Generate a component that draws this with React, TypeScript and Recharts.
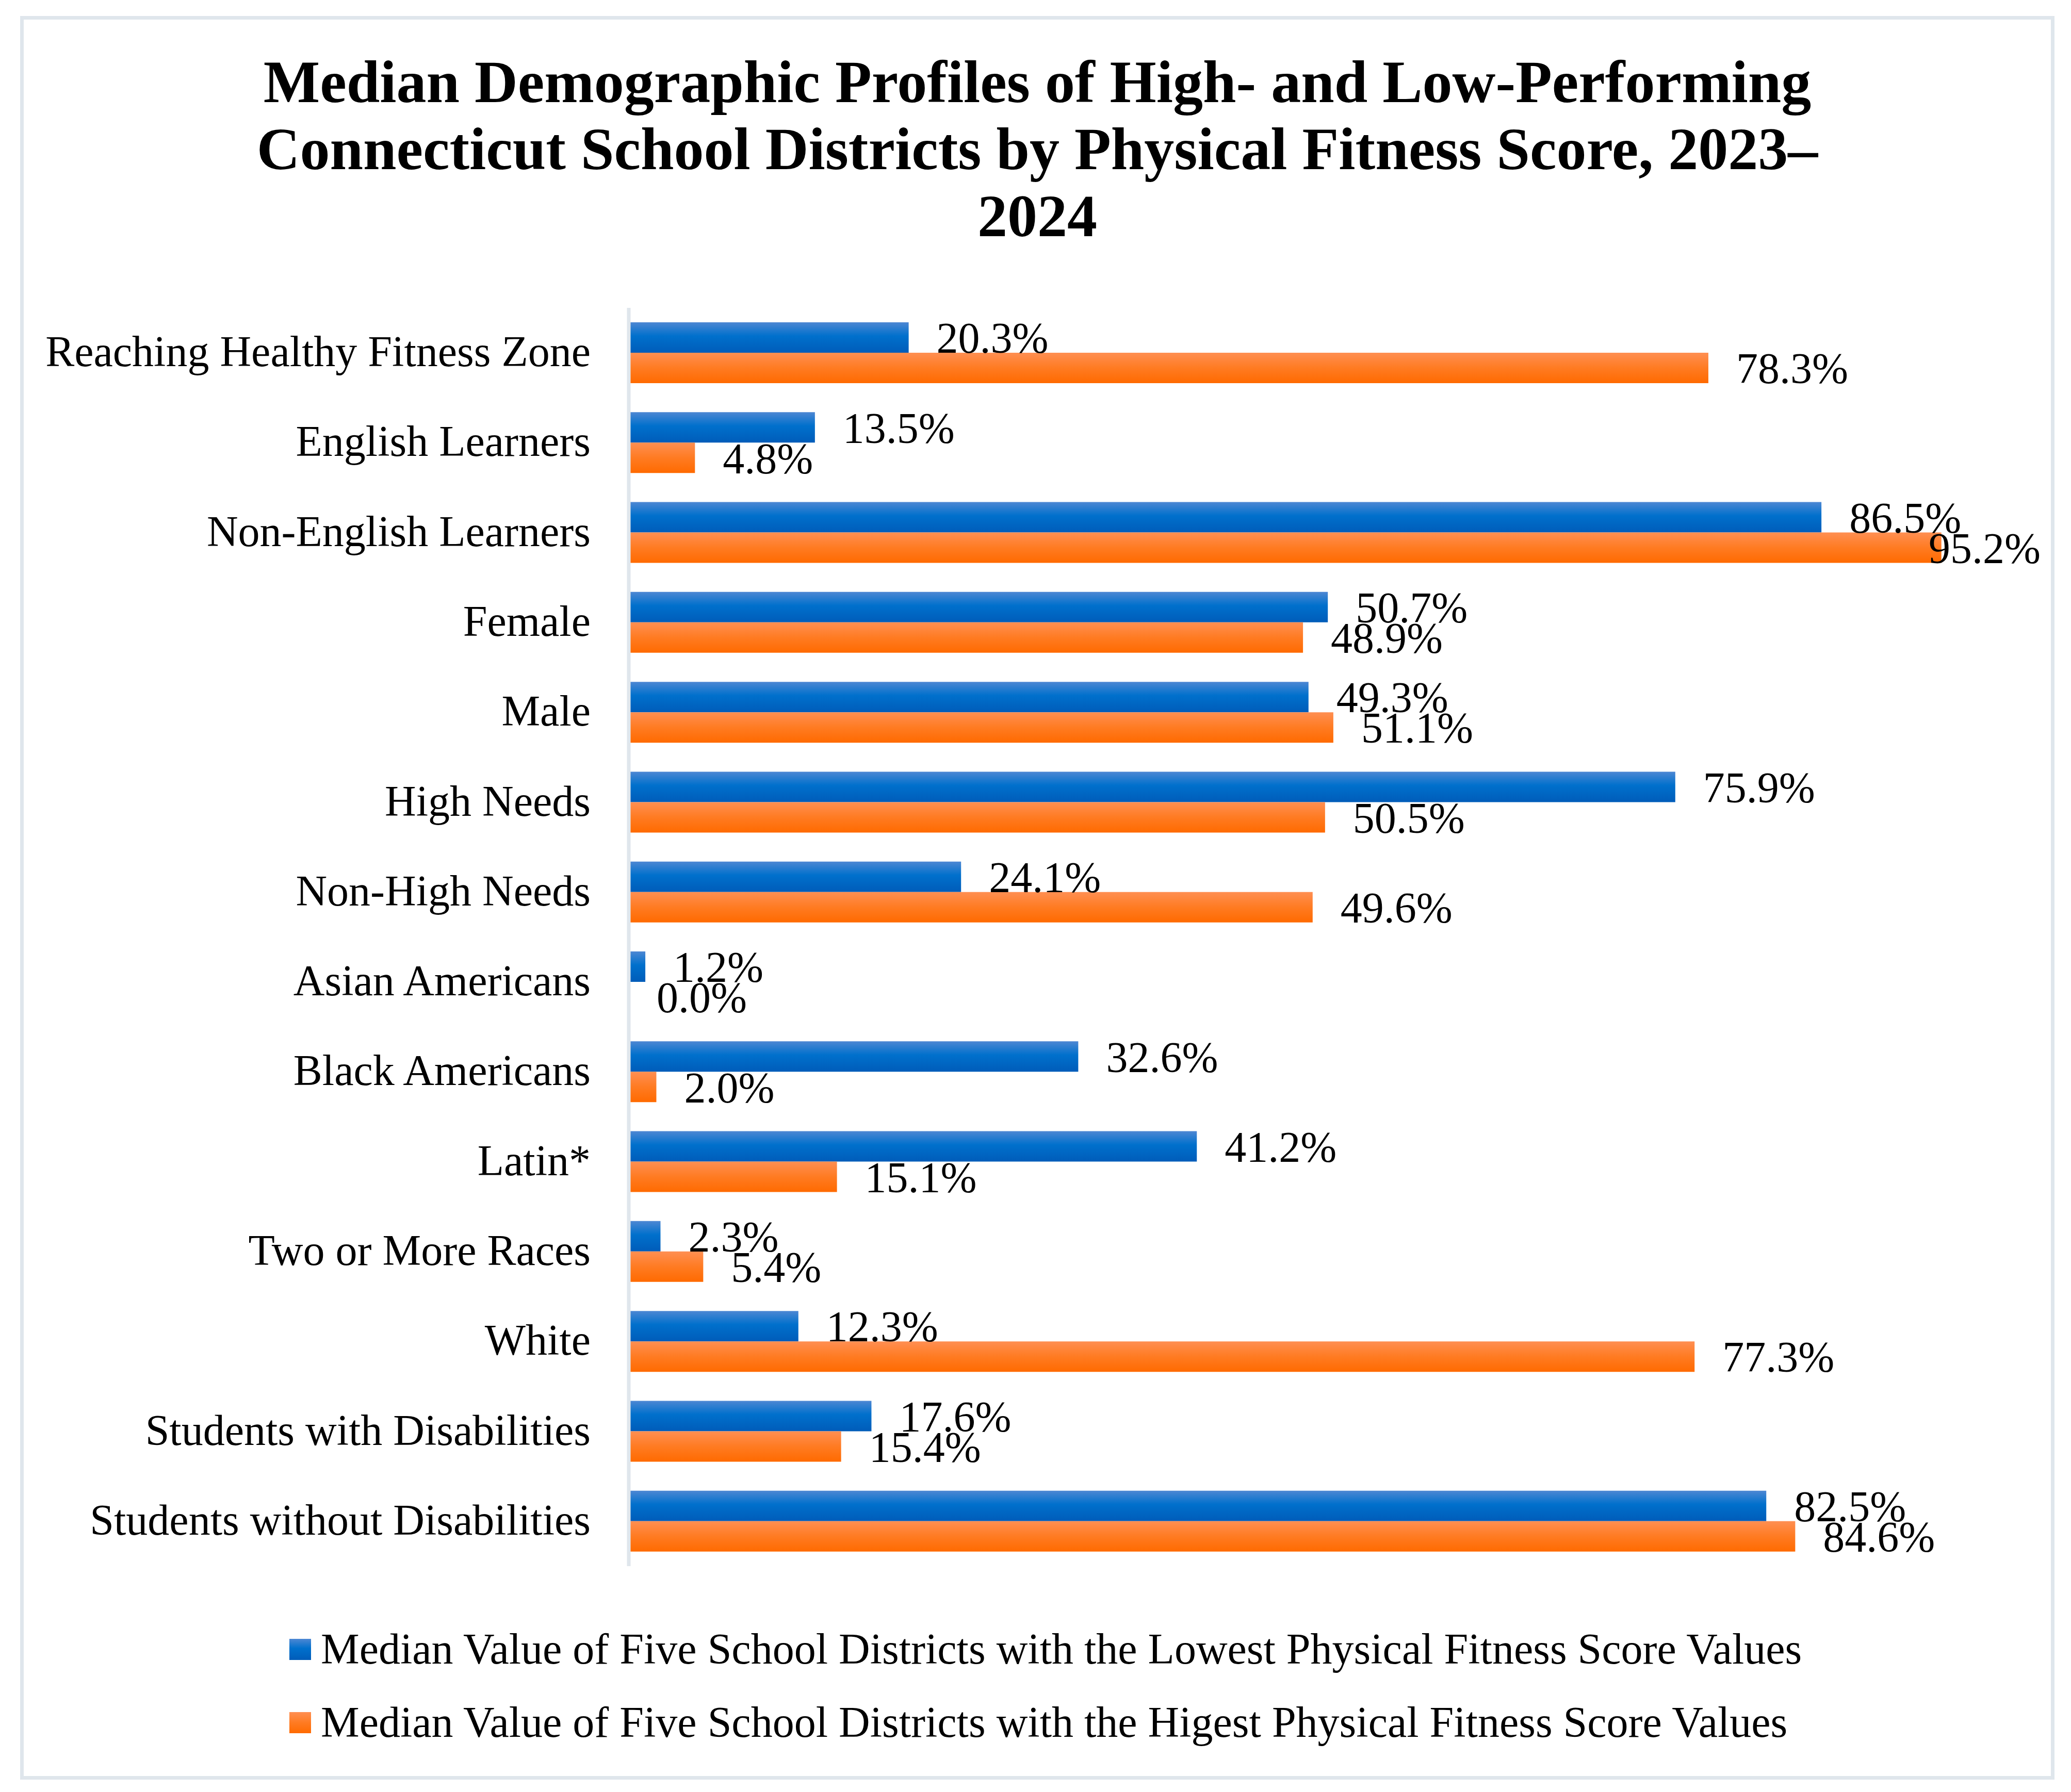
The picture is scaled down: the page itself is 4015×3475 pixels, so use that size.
import React from "react";
import { BarChart, Bar, XAxis, YAxis, LabelList, Legend } from "recharts";

const categories = [
  "Reaching Healthy Fitness Zone",
  "English Learners",
  "Non-English Learners",
  "Female",
  "Male",
  "High Needs",
  "Non-High Needs",
  "Asian Americans",
  "Black Americans",
  "Latin*",
  "Two or More Races",
  "White",
  "Students with Disabilities",
  "Students without Disabilities",
];

const lowestValues = [20.3, 13.5, 86.5, 50.7, 49.3, 75.9, 24.1, 1.2, 32.6, 41.2, 2.3, 12.3, 17.6, 82.5];
const highestValues = [78.3, 4.8, 95.2, 48.9, 51.1, 50.5, 49.6, 0.0, 2.0, 15.1, 5.4, 77.3, 15.4, 84.6];

const seriesNames = [
  "Median Value of Five School Districts with the Lowest Physical Fitness Score Values",
  "Median Value of Five School Districts with the Higest Physical Fitness Score Values",
];

const titleLines = [
  "Median Demographic Profiles of High- and Low-Performing",
  "Connecticut School Districts by Physical Fitness Score, 2023–",
  "2024",
];

const data = categories.map((c, i) => ({ name: c, low: lowestValues[i], high: highestValues[i] }));

const FONT = '"Liberation Serif", "Times New Roman", serif';
const BLUE_CSS = "linear-gradient(to bottom, #4d87d3 0%, #0070cc 45%, #005cb9 100%)";
const ORANGE_CSS = "linear-gradient(to bottom, #ff8f52 0%, #ff7b22 50%, #ff6a00 100%)";
const LABEL_SIZE = 84;
const LABEL_LIMIT = 3956;

const CategoryTick = (props: any) => {
  const { x, y, payload } = props;
  return (
    <text x={x} y={y} dy="0.31em" textAnchor="end" fontFamily={FONT} fontSize={84} fill="#000">
      {payload.value}
    </text>
  );
};

const charW = (ch: string) => (ch === "." ? 0.25 : ch === "%" ? 0.833 : 0.5);
const fmt = (v: any) => `${Number(v).toFixed(1)}%`;

const ValueLabel = (props: any) => {
  const vb = props.viewBox || props;
  const x = Number(vb.x ?? props.x);
  const y = Number(vb.y ?? props.y);
  const width = Number(vb.width ?? props.width ?? 0);
  const height = Number(vb.height ?? props.height ?? 0);
  const text = fmt(props.value);
  const w = text.split("").reduce((s, c) => s + charW(c), 0) * LABEL_SIZE;
  const lx = Math.min(x + width + 54, LABEL_LIMIT - w);
  return (
    <text x={lx} y={y + height / 2} dy="0.355em" fontFamily={FONT} fontSize={LABEL_SIZE} fill="#000">
      {text}
    </text>
  );
};

const LegendContent = () => {
  const swatches = [BLUE_CSS, ORANGE_CSS];
  return (
    <div style={{ fontFamily: FONT }}>
      {seriesNames.map((n, i) => (
        <div
          key={n}
          style={{ display: "flex", alignItems: "center", height: 142, whiteSpace: "nowrap" }}
        >
          <div style={{ width: 42, height: 41, background: swatches[i], marginRight: 19 }} />
          <span style={{ fontSize: 84, lineHeight: "100px", color: "#000" }}>{n}</span>
        </div>
      ))}
    </div>
  );
};

export default function App() {
  return (
    <div style={{ position: "absolute", left: 0, top: 0, width: 4015, height: 3475, background: "#fff" }}>
      <div
        style={{
          position: "absolute",
          left: 39,
          top: 31,
          width: 3944,
          height: 3420,
          border: "7px solid #dfe6ec",
          boxSizing: "border-box",
        }}
      />
      {titleLines.map((t, i) => (
        <div
          key={i}
          style={{
            position: "absolute",
            left: 11,
            width: 4000,
            top: 94 + i * 130,
            textAlign: "center",
            fontFamily: FONT,
            fontWeight: "bold",
            fontSize: 116,
            lineHeight: "130px",
            color: "#000",
            whiteSpace: "nowrap",
          }}
        >
          {t}
        </div>
      ))}
      <div style={{ position: "absolute", left: 0, top: 0 }}>
        <BarChart
          width={4015}
          height={3475}
          data={data}
          layout="vertical"
          margin={{ top: 597, bottom: 438, left: 0, right: 123 }}
          barSize={59}
          barGap={0}
        >
          <defs>
            <linearGradient id="gBlue" x1="0" y1="0" x2="0" y2="1">
              <stop offset="0%" stopColor="#4d87d3" />
              <stop offset="45%" stopColor="#0070cc" />
              <stop offset="100%" stopColor="#005cb9" />
            </linearGradient>
            <linearGradient id="gOrange" x1="0" y1="0" x2="0" y2="1">
              <stop offset="0%" stopColor="#ff8f52" />
              <stop offset="50%" stopColor="#ff7b22" />
              <stop offset="100%" stopColor="#ff6a00" />
            </linearGradient>
          </defs>
          <XAxis type="number" domain={[0, 100]} hide />
          <YAxis
            type="category"
            dataKey="name"
            width={1219}
            tickLine={false}
            tickSize={0}
            tickMargin={74}
            axisLine={{ stroke: "#dfe6ec", strokeWidth: 7 }}
            tick={<CategoryTick />}
            interval={0}
          />
          <Legend
            layout="vertical"
            align="center"
            verticalAlign="middle"
            content={<LegendContent />}
            wrapperStyle={{ left: 561, top: 3127, width: 3400, height: 290 }}
          />
          <Bar dataKey="low" name={seriesNames[0]} fill="url(#gBlue)" isAnimationActive={false}>
            <LabelList dataKey="low" content={<ValueLabel />} />
          </Bar>
          <Bar
            dataKey="high"
            name={seriesNames[1]}
            fill="url(#gOrange)"
            minPointSize={0.01}
            isAnimationActive={false}
          >
            <LabelList dataKey="high" content={<ValueLabel />} />
          </Bar>
        </BarChart>
      </div>
    </div>
  );
}
